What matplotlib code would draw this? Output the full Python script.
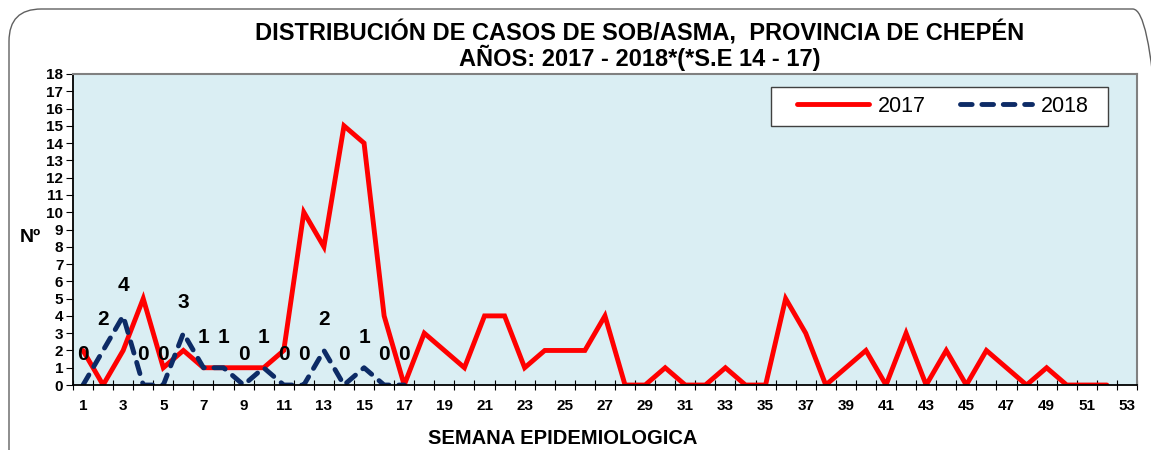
import matplotlib.pyplot as plt
from matplotlib.patches import FancyBboxPatch, Rectangle
from matplotlib.ticker import MultipleLocator

plt.rcParams['font.family'] = ['Liberation Sans', 'DejaVu Sans']

# datos
semanas = list(range(1, 54))
casos_2017 = [2, 0, 2, 5, 1, 2, 1, 1, 1, 1, 2, 10, 8, 15, 14, 4, 0, 3, 2, 1,
              4, 4, 1, 2, 2, 2, 4, 0, 0, 1, 0, 0, 1, 0, 0, 5, 3, 0, 1, 2,
              0, 3, 0, 2, 0, 2, 1, 0, 1, 0, 0, 0]
casos_2018 = [0, 2, 4, 0, 0, 3, 1, 1, 0, 1, 0, 0, 2, 0, 1, 0, 0]
etiquetas_x = [str(s) for s in semanas[::2]]

fig = plt.figure(figsize=(11.51, 4.5), dpi=100)
ax = fig.add_axes([0.0634, 0.1444, 0.9244, 0.6912])
ax.set_facecolor('#DAEEF3')

x17 = semanas[:len(casos_2017)]
x18 = semanas[:len(casos_2018)]
ax.plot(x17, casos_2017, color='#FF0000', lw=3.5, label='2017',
        solid_joinstyle='miter', solid_capstyle='round')
ax.plot(x18, casos_2018, color='#0D2B66', lw=3.5, dashes=(2.4, 2.0),
        dash_capstyle='round', label='2018')

# etiquetas de 2018
for xi, yi in zip(x18, casos_2018):
    ax.annotate(str(yi), (xi, yi), xytext=(0, 22), textcoords='offset points',
                ha='center', va='center', fontsize=15, fontweight='bold')

ax.set_xlim(0.5, 53.5)
ax.set_ylim(0, 18)
ax.yaxis.set_major_locator(MultipleLocator(1))
ax.set_xticks(semanas[::2])
ax.set_xticklabels(etiquetas_x)
ax.set_xticks([s + 0.5 for s in range(0, 54)], minor=True)
ax.tick_params(axis='x', which='major', length=0, pad=10)
ax.tick_params(axis='x', which='minor', length=7, direction='inout', width=0.8)
ax.tick_params(axis='y', length=5, width=0.8, pad=2)
for lab in ax.get_xticklabels() + ax.get_yticklabels():
    lab.set_fontweight('bold')
    lab.set_fontsize(11)

for s in ['left', 'bottom']:
    ax.spines[s].set_color('black')
    ax.spines[s].set_linewidth(1.3)
for s in ['top', 'right']:
    ax.spines[s].set_color('#808080')
    ax.spines[s].set_linewidth(1.5)

# leyenda con caja propia
caja = Rectangle((0.656, 0.8328), 0.3167, 0.1254, transform=ax.transAxes,
                 facecolor='white', edgecolor='#404040', lw=1.0, zorder=4)
ax.add_patch(caja)
leg = ax.legend(ncol=2, loc='center', bbox_to_anchor=(0.8177, 0.8955),
                borderaxespad=0, fontsize=15.5, frameon=False,
                handlelength=3.35, columnspacing=1.6, handletextpad=0.4)
leg.set_zorder(5)

fig.text(640 / 1151, 1 - 33 / 450, 'DISTRIBUCIÓN DE CASOS DE SOB/ASMA,  PROVINCIA DE CHEPÉN',
         ha='center', va='center', fontsize=17, fontweight='bold')
fig.text(640 / 1151, 1 - 58 / 450, 'AÑOS: 2017 - 2018*(*S.E 14 - 17)',
         ha='center', va='center', fontsize=17, fontweight='bold')
fig.text(563 / 1151, 1 - 438 / 450, 'SEMANA EPIDEMIOLOGICA',
         ha='center', va='center', fontsize=14.5, fontweight='bold')
fig.text(30 / 1151, 1 - 238 / 450, 'Nº', ha='center', va='center',
         fontsize=14, fontweight='bold')

# marco redondeado de la figura
marco = FancyBboxPatch((9 / 1151, -40 / 450), 1156 / 1151, 481 / 450,
                       transform=fig.transFigure,
                       boxstyle='round,pad=0,rounding_size=0.028', fill=False,
                       edgecolor='#606060', lw=1.0, mutation_aspect=1151 / 450)
fig.patches.append(marco)

fig.savefig('out.png', dpi=100)
